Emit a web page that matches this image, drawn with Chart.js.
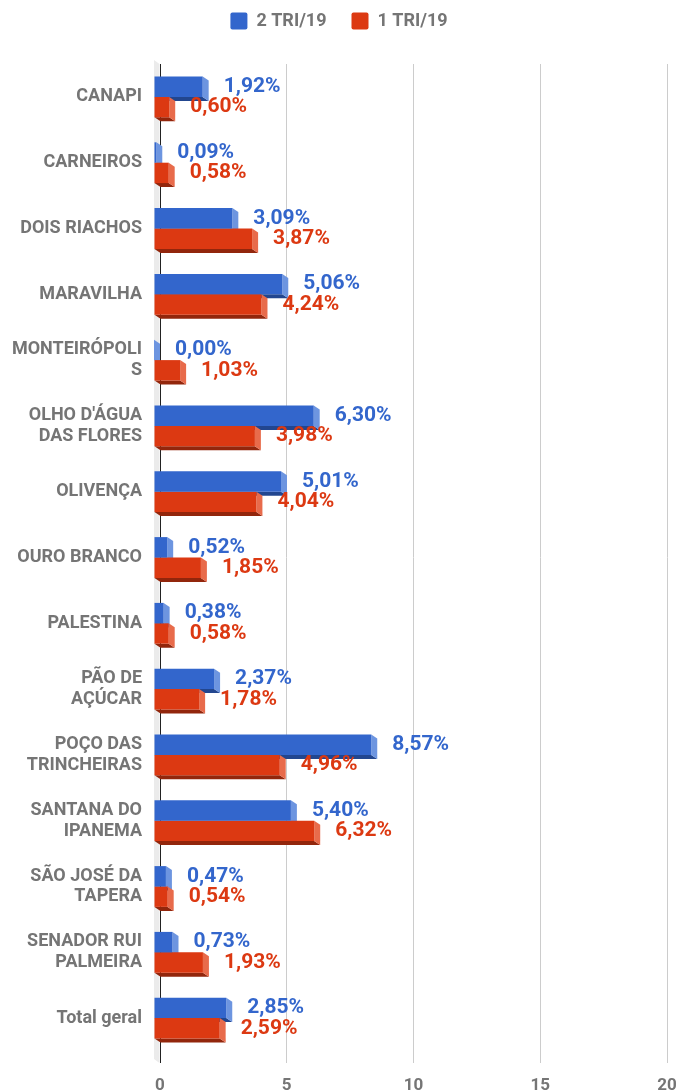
<!DOCTYPE html>
<html lang="pt-BR">
<head>
    <meta charset="UTF-8">
    <title>2 TRI/19 x 1 TRI/19</title>
    <script src="https://cdn.jsdelivr.net/npm/chart.js"></script>
    <style>
        html, body { margin: 0; padding: 0; background: #fff; }
    </style>
</head>
<body>
    <canvas id="grafico" width="680" height="1092"></canvas>

    <script>
        // Dados do gráfico
        const categorias = [
            'CANAPI', 'CARNEIROS', 'DOIS RIACHOS', 'MARAVILHA',
            ['MONTEIRÓPOLI', 'S'], ["OLHO D'ÁGUA", 'DAS FLORES'], 'OLIVENÇA',
            'OURO BRANCO', 'PALESTINA', ['PÃO DE', 'AÇÚCAR'],
            ['POÇO DAS', 'TRINCHEIRAS'], ['SANTANA DO', 'IPANEMA'],
            ['SÃO JOSÉ DA', 'TAPERA'], ['SENADOR RUI', 'PALMEIRA'], 'Total geral'
        ];
        const tri2 = [1.92, 0.09, 3.09, 5.06, 0.00, 6.30, 5.01, 0.52, 0.38, 2.37, 8.57, 5.40, 0.47, 0.73, 2.85];
        const tri1 = [0.60, 0.58, 3.87, 4.24, 1.03, 3.98, 4.04, 1.85, 0.58, 1.78, 4.96, 6.32, 0.54, 1.93, 2.59];
        const ticksX = [0, 5, 10, 15, 20];

        const cinza = '#757575';
        const DX = 6, DY = 4; // profundidade do efeito 3D

        // Parede lateral + faces 3D das barras (desenhadas antes das frentes)
        const barras3d = {
            id: 'barras3d',
            beforeDatasetsDraw(chart) {
                const ctx = chart.ctx;
                const area = chart.chartArea;
                ctx.save();
                ctx.fillStyle = '#ebebeb';
                ctx.beginPath();
                ctx.moveTo(area.left - DX, area.top - DY);
                ctx.lineTo(area.left - 0.5, area.top);
                ctx.lineTo(area.left - 0.5, area.bottom + 12);
                ctx.lineTo(area.left - DX, area.bottom + 12 - DY);
                ctx.closePath();
                ctx.fill();

                chart.data.datasets.forEach((ds, i) => {
                    chart.getDatasetMeta(i).data.forEach(bar => {
                        const x0 = bar.base - DX, x1 = bar.x - DX;
                        const y0 = bar.y - bar.height / 2, y1 = bar.y + bar.height / 2;
                        // face de baixo
                        ctx.fillStyle = ds.corBaixo;
                        ctx.beginPath();
                        ctx.moveTo(x0, y1);
                        ctx.lineTo(x1, y1);
                        ctx.lineTo(x1 + DX, y1 + DY);
                        ctx.lineTo(x0 + DX, y1 + DY);
                        ctx.closePath();
                        ctx.fill();
                        // face lateral
                        ctx.fillStyle = ds.corLado;
                        ctx.beginPath();
                        ctx.moveTo(x1, y0);
                        ctx.lineTo(x1 + DX, y0 + DY);
                        ctx.lineTo(x1 + DX, y1 + DY);
                        ctx.lineTo(x1, y1);
                        ctx.closePath();
                        ctx.fill();
                    });
                });
                ctx.translate(-DX, 0);
            },
            afterDatasetsDraw(chart) {
                const ctx = chart.ctx;
                ctx.restore();
                // rótulos de valor
                ctx.save();
                ctx.font = 'bold 21px Roboto';
                ctx.textAlign = 'left';
                ctx.textBaseline = 'middle';
                chart.data.datasets.forEach((ds, i) => {
                    chart.getDatasetMeta(i).data.forEach((bar, j) => {
                        const txt = ds.data[j].toFixed(2).replace('.', ',') + '%';
                        ctx.fillStyle = ds.backgroundColor;
                        ctx.fillText(txt, bar.x + 15, bar.y);
                    });
                });
                ctx.restore();
            }
        };

        // Altura fixa da legenda
        const alturaLegenda = {
            id: 'alturaLegenda',
            beforeUpdate(chart) {
                const leg = chart.legend;
                if (leg && !leg._fixo) {
                    const fitOriginal = leg.fit;
                    leg.fit = function () {
                        fitOriginal.call(this);
                        this.height = 77;
                    };
                    leg._fixo = true;
                }
            }
        };

        new Chart(document.getElementById('grafico'), {
            type: 'bar',
            data: {
                labels: categorias,
                datasets: [
                    {
                        label: '2 TRI/19',
                        data: tri2,
                        backgroundColor: '#3366cc',
                        corLado: '#6d95e0',
                        corBaixo: '#22468f',
                        categoryPercentage: 0.62,
                        barPercentage: 1.0,
                        clip: false
                    },
                    {
                        label: '1 TRI/19',
                        data: tri1,
                        backgroundColor: '#dc3912',
                        corLado: '#e86b4b',
                        corBaixo: '#92260c',
                        categoryPercentage: 0.62,
                        barPercentage: 1.0,
                        clip: false
                    }
                ]
            },
            options: {
                indexAxis: 'y',
                responsive: false,
                animation: false,
                layout: { padding: { left: 11, right: 13, top: -13, bottom: 0 } },
                plugins: {
                    legend: {
                        position: 'top',
                        labels: {
                            color: cinza,
                            font: { family: 'Roboto', size: 18, weight: 'bold' },
                            boxWidth: 17,
                            boxHeight: 17,
                            padding: 25,
                            useBorderRadius: true,
                            borderRadius: 2
                        }
                    },
                    tooltip: { enabled: false }
                },
                scales: {
                    x: {
                        min: 0,
                        max: 20,
                        afterBuildTicks: (scale) => { scale.ticks = ticksX.map(v => ({ value: v })); },
                        afterFit: (scale) => {
                            scale.height = 41;
                            scale.paddingLeft = 0;
                            scale.paddingRight = 0;
                        },
                        grid: {
                            color: (c) => c.tick && c.tick.value === 0 ? '#222222' : '#cccccc',
                            tickLength: 12,
                            lineWidth: 1
                        },
                        border: { display: false },
                        ticks: {
                            color: cinza,
                            font: { family: 'Roboto', size: 17, weight: 'bold' },
                            padding: 13,
                            maxRotation: 0
                        }
                    },
                    y: {
                        afterFit: (scale) => { scale.width = 149; },
                        grid: { display: false, drawTicks: false },
                        border: { display: false },
                        ticks: {
                            color: cinza,
                            font: { family: 'Roboto', size: 18, weight: 'bold', lineHeight: 1.15 },
                            padding: 18,
                            autoSkip: false
                        }
                    }
                }
            },
            plugins: [barras3d, alturaLegenda]
        });
    </script>
</body>
</html>
